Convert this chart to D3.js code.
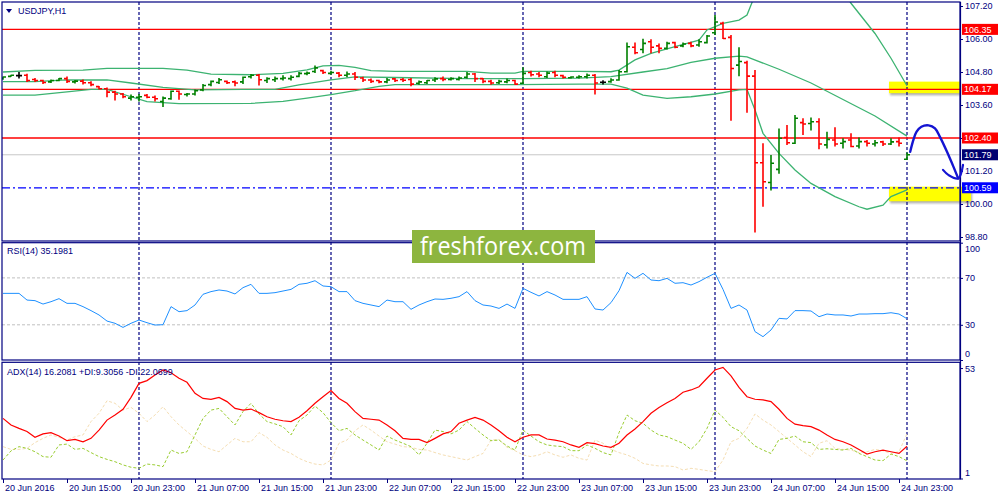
<!DOCTYPE html>
<html>
<head>
<meta charset="utf-8">
<script src="https://cdn.jsdelivr.net/npm/d3@7"></script>
<style>
body{margin:0;background:#fff;}
text{font-family:"Liberation Sans",Arial,sans-serif;}
</style>
</head>
<body>
<script>
// USDJPY H1, bars from 20 Jun 07:00 to 24 Jun 23:00
var barOpen = [104.56,104.64,104.67,104.68,104.53,104.49,104.44,104.49,104.56,104.44,
  104.47,104.41,104.27,104.19,104.07,104.00,103.85,103.88,103.95,103.88,
  103.73,103.83,104.10,103.98,104.00,104.15,104.34,104.42,104.46,104.44,
  104.44,104.63,104.68,104.49,104.52,104.56,104.56,104.64,104.74,104.82,
  104.85,104.75,104.76,104.68,104.73,104.58,104.51,104.49,104.44,104.55,
  104.53,104.53,104.39,104.41,104.51,104.56,104.53,104.53,104.61,104.73,
  104.56,104.46,104.41,104.44,104.49,104.39,104.78,104.73,104.63,104.78,
  104.67,104.59,104.61,104.63,104.68,104.43,104.45,104.51,104.81,105.70,
  105.62,105.90,105.75,105.66,105.87,105.75,105.84,105.78,105.87,106.23,
  106.57,106.06,105.05,105.14,104.65,101.50,100.78,101.26,102.42,102.21,
  102.96,102.93,102.99,102.15,102.33,102.21,102.33,102.11,102.27,102.18,
  102.26,102.18,102.27,101.63];
var barHigh = [104.64,104.70,104.80,104.74,104.58,104.52,104.53,104.58,104.64,104.51,
  104.53,104.46,104.29,104.24,104.12,104.04,103.98,104.00,104.00,103.95,
  103.91,104.13,104.13,104.04,104.16,104.36,104.49,104.58,104.49,104.49,
  104.64,104.73,104.73,104.61,104.64,104.68,104.68,104.80,104.82,105.04,
  104.88,104.85,104.80,104.82,104.80,104.63,104.56,104.52,104.58,104.58,
  104.58,104.58,104.49,104.51,104.61,104.64,104.61,104.64,104.80,104.76,
  104.58,104.52,104.52,104.56,104.52,104.97,104.85,104.80,104.82,104.85,
  104.70,104.65,104.68,104.75,104.73,104.50,104.57,104.87,105.87,105.87,
  106.01,105.99,105.84,105.90,105.90,105.87,105.90,105.99,106.15,106.87,
  106.63,106.15,105.70,105.21,104.87,102.21,101.78,102.75,102.87,103.24,
  103.12,103.15,103.12,102.63,102.79,102.39,102.57,102.42,102.33,102.33,
  102.30,102.39,102.42,101.87];
var barLow = [104.52,104.63,104.56,104.44,104.44,104.36,104.40,104.46,104.40,104.38,
  104.35,104.28,104.16,103.88,103.76,103.85,103.76,103.73,103.85,103.73,
  103.53,103.79,103.79,103.91,103.95,104.10,104.28,104.36,104.36,104.28,
  104.36,104.56,104.31,104.40,104.44,104.49,104.49,104.61,104.68,104.76,
  104.73,104.70,104.61,104.61,104.51,104.44,104.40,104.39,104.39,104.44,
  104.44,104.28,104.34,104.36,104.44,104.46,104.49,104.49,104.56,104.44,
  104.39,104.34,104.36,104.39,104.34,104.36,104.64,104.61,104.58,104.61,
  104.56,104.56,104.56,104.56,103.98,104.35,104.41,104.48,104.78,105.45,
  105.48,105.48,105.48,105.62,105.66,105.70,105.70,105.72,105.84,106.15,
  106.00,103.03,104.65,103.32,98.96,99.90,100.49,101.10,102.15,102.18,
  102.51,102.67,101.99,102.02,102.09,102.02,102.06,102.02,102.09,102.09,
  102.11,102.15,102.09,101.60];
var barClose = [104.62,104.68,104.67,104.49,104.49,104.42,104.49,104.56,104.46,104.47,
  104.41,104.34,104.19,104.07,104.00,103.90,103.90,103.90,103.88,103.83,
  103.85,104.10,104.00,104.00,104.12,104.31,104.46,104.52,104.41,104.40,
  104.61,104.68,104.52,104.56,104.56,104.58,104.61,104.75,104.76,104.95,
  104.78,104.78,104.68,104.73,104.61,104.51,104.46,104.44,104.51,104.49,
  104.50,104.36,104.44,104.49,104.55,104.53,104.56,104.58,104.73,104.56,
  104.46,104.40,104.46,104.49,104.36,104.75,104.70,104.68,104.76,104.68,
  104.61,104.62,104.63,104.68,104.40,104.43,104.51,104.81,105.72,105.50,
  105.84,105.70,105.66,105.84,105.70,105.82,105.75,105.90,106.11,106.62,
  106.02,104.93,105.18,104.65,101.50,100.81,101.48,102.39,102.23,103.12,
  102.91,102.99,102.18,102.35,102.18,102.27,102.09,102.27,102.21,102.23,
  102.18,102.26,102.21,101.79];

// Bollinger bands, vertices [bar, price]
var bbUpper = [[0,104.80],[4,104.86],[10,104.87],[13,104.93],[20,104.93],[23,104.87],[26,104.72],
  [31,104.70],[35,104.75],[38,104.88],[40,105.02],[42,105.04],[44,104.97],[46,104.85],[49,104.82],
  [58,104.82],[61,104.76],[64,104.76],[65,104.82],[72,104.82],[76,104.81],[77,104.87],[79,105.24],
  [81,105.48],[84,105.72],[87,105.96],[88,106.33],[90,106.57],[92,106.69],[93,106.87],[94,107.6],
  [96,108.4],[100,108.9],[104,108.2],[106,107.3],[109,106.2],[111,105.3],[112,104.8],[113,104.3]];
var bbMiddle = [[0,104.45],[4,104.45],[8,104.51],[13,104.51],[16,104.40],[20,104.24],[24,104.15],
  [30,104.17],[34,104.17],[37,104.33],[41,104.51],[44,104.62],[49,104.60],[58,104.56],[65,104.56],
  [72,104.58],[76,104.63],[80,104.80],[83,104.92],[86,105.15],[89,105.30],[92,105.38],[93,105.35],
  [97,104.90],[101,104.40],[105,103.80],[109,103.20],[113,102.47]];
var bbLower = [[0,103.96],[4,103.96],[8,104.08],[11,104.17],[13,104.17],[16,103.90],[18,103.72],
  [22,103.65],[31,103.66],[35,103.73],[38,103.85],[41,103.98],[44,104.12],[47,104.28],[49,104.34],
  [64,104.34],[72,104.36],[76,104.36],[78,104.21],[80,103.96],[83,103.84],[86,103.90],[89,104.00],
  [92,104.15],[93,104.17],[94,103.42],[95,102.57],[97,101.84],[99,101.24],[101,100.75],[104,100.27],
  [107,99.90],[108,99.81],[110,99.96],[111,100.27],[113,100.51]];

var rsiValues = [56.8,56.8,56.8,51.1,50.6,47.7,49.7,52.3,48.3,48.3,
  45.5,42.1,38.4,33.2,31.3,27.8,31.3,34.1,31.8,29.8,
  30.1,45.5,41.2,42.1,46.9,56.0,58.3,59.7,58.8,56.3,
  61.7,64.5,56.8,56.8,57.4,58.8,60.2,64.5,65.4,67.6,
  63.1,62.5,58.3,58.3,50.6,48.3,46.9,45.5,51.1,49.7,
  49.7,43.2,46.9,49.7,52.0,51.7,52.6,54.0,58.3,50.6,
  46.9,46.0,44.0,47.7,44.0,61.1,57.7,54.6,58.3,55.4,
  51.7,51.7,51.7,54.0,43.5,42.6,48.9,59.1,74.7,69.6,
  73.9,68.2,67.6,69.6,65.4,65.9,63.9,66.8,70.5,73.9,
  60.2,44.0,46.9,42.6,24.2,19.9,25.6,35.5,35.0,42.1,
  42.1,41.8,36.9,39.2,38.4,38.4,37.5,39.2,39.2,39.5,
  39.5,40.3,39.2,35.2];

var adxMain = [29.3,26.2,24.6,23.1,20.4,22.0,22.6,21.0,18.8,19.4,
  18.3,19.9,23.8,28.5,30.9,33.6,39.2,45.8,47.1,49.7,
  52.1,50.8,48.2,46.3,41.1,38.7,38.3,39.2,37.2,34.0,
  33.2,33.7,32.0,30.1,28.9,28.2,27.8,29.8,32.9,36.4,
  39.5,42.4,38.7,36.4,32.5,29.3,28.9,28.5,26.2,23.5,
  19.9,19.4,19.4,17.9,19.9,22.0,23.1,27.0,28.5,29.8,
  28.5,26.2,23.5,20.4,18.3,20.4,21.5,21.5,19.6,19.1,
  18.3,16.8,15.7,17.9,17.4,16.3,15.7,17.6,21.5,24.3,
  27.8,31.7,34.4,36.7,38.7,41.6,42.7,44.2,48.2,52.1,
  53.3,49.3,43.9,39.5,38.3,38.0,37.2,33.6,29.3,26.6,
  25.9,25.4,23.8,21.5,19.4,18.3,16.8,14.7,12.5,13.6,
  14.4,13.6,12.8,16.2];
var adxPlusDI = [9.7,14.0,16.0,15.2,13.6,11.3,11.0,16.8,17.2,14.7,
  15.2,13.2,11.3,10.0,8.9,7.4,6.3,5.8,7.8,7.4,
  6.6,14.4,12.8,13.6,21.5,29.3,33.2,34.0,30.1,26.2,
  32.5,36.4,31.4,27.8,26.7,25.4,21.5,28.2,30.9,35.1,
  32.0,27.3,23.5,24.6,21.5,19.1,16.8,14.4,21.0,19.1,
  17.6,16.0,12.1,17.6,23.8,23.1,22.0,23.8,27.8,24.6,
  21.5,18.8,19.1,16.3,14.4,23.8,21.0,18.3,16.8,16.3,
  16.0,14.1,14.1,16.8,15.2,13.2,12.1,22.6,30.9,28.2,
  27.0,23.8,21.5,20.7,19.1,17.6,14.7,18.3,24.6,33.2,
  29.8,25.4,23.5,19.9,16.3,14.4,12.8,19.4,19.9,21.0,
  18.3,17.9,14.7,15.0,14.7,14.4,15.2,12.8,11.3,9.7,
  9.4,12.5,11.3,9.3];
var adxMinusDI = [16.0,14.7,14.7,15.2,17.9,19.9,21.5,20.4,19.1,20.7,
  21.5,27.8,31.7,37.6,36.4,33.2,34.5,31.7,27.8,30.9,
  34.8,30.1,26.2,23.1,19.9,16.3,14.7,13.6,16.8,19.9,
  18.3,18.3,22.6,20.4,16.8,14.4,12.8,10.5,8.9,7.8,
  7.4,9.7,17.6,19.1,23.5,26.2,23.8,21.0,18.3,17.2,
  16.0,15.7,14.7,14.4,13.2,12.1,11.3,10.5,9.7,11.3,
  12.8,19.1,19.4,15.7,14.1,12.1,11.3,12.1,13.6,12.1,
  11.0,12.1,10.5,9.7,19.1,17.6,14.7,13.2,12.1,10.5,
  8.1,7.4,6.9,6.9,6.6,5.0,5.8,5.3,4.7,4.2,
  9.7,18.3,19.9,24.6,31.4,28.5,26.2,23.1,19.9,16.8,
  13.6,11.3,17.6,18.8,15.2,14.7,14.4,13.2,13.6,14.7,
  14.1,12.8,13.6,22.1];

var timeLabels = ["20 Jun 2016","20 Jun 15:00","20 Jun 23:00","21 Jun 07:00","21 Jun 15:00",
  "21 Jun 23:00","22 Jun 07:00","22 Jun 15:00","22 Jun 23:00","23 Jun 07:00","23 Jun 15:00",
  "23 Jun 23:00","24 Jun 07:00","24 Jun 15:00","24 Jun 23:00"];
var timeBars = [0,8,16,24,32,40,48,56,64,72,80,88,96,104,112];
var daySeparators = [17,41,65,89,113];
var priceTicks = [107.20,106.00,104.80,103.60,102.40,101.20,100.00,98.80];
var rsiTicks = [100,70,30,0];
var rsiLevels = [70,30];
var adxTicks = [53,1];

var redLevels = [106.35,104.17,102.40];
var bidPrice = 101.79;
var targetPrice = 100.59;
// highlighted zones: from bar, top price, bottom price
var zoneFrom = [110.75,110.75];
var zoneTop = [104.45,100.63];
var zoneBottom = [104.03,100.10];
// hand drawn arrow, [bar, price]
var arrowPath = [[113.4,101.90],[113.8,102.33],[114.2,102.63],[114.8,102.81],[115.7,102.86],
  [116.5,102.75],[117.1,102.45],[118.0,101.90],[118.8,101.36],[119.4,100.93]];
var arrowHead = [[117.5,101.24],[118.2,101.05],[119.4,100.93],[120.0,101.42]];

var navy = '#000080';
var svg = d3.select('body').append('svg').attr('width',1000).attr('height',500);

var x = d3.scaleLinear().domain([0,113]).range([3,907]);
var yPrice = d3.scaleLinear().domain([98.8,107.2]).range([237,6]);
var yRsi = d3.scaleLinear().domain([0,100]).range([360,242.7]);
var yAdx = d3.scaleLinear().domain([1,53.5]).range([478.5,367]);
var panels = [[2,241],[242.7,360],[362.3,479]];

var defs = svg.append('defs');
defs.append('clipPath').attr('id','clipMain').append('rect')
  .attr('x',2).attr('y',2).attr('width',958).attr('height',239);
defs.append('filter').attr('id','blur').append('feGaussianBlur').attr('stdDeviation',1.3);

// yellow zones (background)
zoneFrom.forEach(function(f,i){
  var zx = x(f), zy = yPrice(zoneTop[i]), zh = yPrice(zoneBottom[i]) - zy;
  var zw = (i==0 ? 960 : 971) - zx;
  svg.append('rect').attr('x',zx+1).attr('y',zy+2).attr('width',zw).attr('height',zh)
    .attr('fill','#777').attr('opacity',0.6).attr('filter','url(#blur)');
  svg.append('rect').attr('x',zx).attr('y',zy).attr('width',zw).attr('height',zh).attr('fill','#ffff00');
});

// rsi levels
svg.selectAll('line.rsilvl').data(rsiLevels).enter().append('line')
  .attr('class','rsilvl')
  .attr('x1',2).attr('x2',960)
  .attr('y1',function(d){return yRsi(d);}).attr('y2',function(d){return yRsi(d);})
  .attr('stroke','#c0c0c0').attr('stroke-dasharray','3,2');

// day separators
svg.selectAll('line.sep').data(daySeparators).enter().append('line')
  .attr('class','sep')
  .attr('x1',function(d){return x(d);}).attr('x2',function(d){return x(d);})
  .attr('y1',2).attr('y2',479)
  .attr('stroke',navy).attr('stroke-width',1.2).attr('stroke-dasharray','3,2');

var main = svg.append('g').attr('clip-path','url(#clipMain)');

main.selectAll('line.lvl').data(redLevels).enter().append('line')
  .attr('class','lvl')
  .attr('x1',2).attr('x2',960)
  .attr('y1',function(d){return yPrice(d);}).attr('y2',function(d){return yPrice(d);})
  .attr('stroke','#ff0000').attr('stroke-width',1.3);
main.append('line').attr('x1',2).attr('x2',960)
  .attr('y1',yPrice(bidPrice)).attr('y2',yPrice(bidPrice))
  .attr('stroke','#c8c8c8').attr('stroke-width',1);
main.append('line').attr('x1',2).attr('x2',960)
  .attr('y1',yPrice(targetPrice)).attr('y2',yPrice(targetPrice))
  .attr('stroke','#0000ff').attr('stroke-width',1.2).attr('stroke-dasharray','8,3,2,3');

var bbLine = d3.line().x(function(d){return x(d[0]);}).y(function(d){return yPrice(d[1]);});
[bbUpper,bbMiddle,bbLower].forEach(function(s){
  main.append('path').attr('d',bbLine(s)).attr('fill','none')
    .attr('stroke','#3cb371').attr('stroke-width',1.3);
});

// OHLC bars
main.selectAll('path.bar').data(barClose).enter().append('path')
  .attr('class','bar')
  .attr('d',function(c,i){
    var bx = x(i);
    return 'M'+bx+','+yPrice(barHigh[i])+'V'+yPrice(barLow[i])
      +'M'+(bx-3)+','+yPrice(barOpen[i])+'H'+bx
      +'M'+bx+','+yPrice(c)+'H'+(bx+3);
  })
  .attr('fill','none').attr('stroke-width',1.6)
  .attr('stroke',function(c,i){return c>barOpen[i]?'#008000':(c<barOpen[i]?'#ff0000':'#000000');});

// RSI
var rsiLine = d3.line().x(function(d,i){return x(i);}).y(function(d){return yRsi(d);});
svg.append('path').attr('d',rsiLine(rsiValues)).attr('fill','none')
  .attr('stroke','#1e90ff').attr('stroke-width',1);

// ADX
var adxLine = d3.line().x(function(d,i){return x(i);}).y(function(d){return yAdx(d);});
svg.append('path').attr('d',adxLine(adxMinusDI)).attr('fill','none')
  .attr('stroke','#f5deb3').attr('stroke-width',1).attr('stroke-dasharray','3,2');
svg.append('path').attr('d',adxLine(adxPlusDI)).attr('fill','none')
  .attr('stroke','#9acd32').attr('stroke-width',1).attr('stroke-dasharray','3,2');
svg.append('path').attr('d',adxLine(adxMain)).attr('fill','none')
  .attr('stroke','#ff0000').attr('stroke-width',1.2);

// panel frames
panels.forEach(function(p){
  svg.append('rect').attr('x',2).attr('y',p[0]).attr('width',958).attr('height',p[1]-p[0])
    .attr('fill','none').attr('stroke',navy).attr('stroke-width',1.2);
});

// axes
function styleAxis(g){
  g.select('.domain').remove();
  g.selectAll('line').attr('stroke',navy);
  g.selectAll('text').attr('fill',navy).style('font-family','"Liberation Sans",Arial,sans-serif').style('font-size','9px');
}
svg.append('g').attr('transform','translate(960,0)')
  .call(d3.axisRight(yPrice).tickValues(priceTicks).tickSize(3).tickPadding(2).tickFormat(d3.format('.2f')))
  .call(styleAxis);
svg.append('g').attr('transform','translate(960,0)')
  .call(d3.axisRight(yRsi).tickValues(rsiTicks).tickSize(3).tickPadding(2))
  .call(styleAxis)
  .selectAll('text').attr('y',function(d){return d==100?6:(d==0?-6:0);});
svg.append('g').attr('transform','translate(960,0)')
  .call(d3.axisRight(yAdx).tickValues(adxTicks).tickSize(3).tickPadding(2))
  .call(styleAxis)
  .selectAll('text').attr('y',function(d){return d==1?-6:1;});
var xAxis = svg.append('g').attr('transform','translate(0,479)')
  .call(d3.axisBottom(x).tickValues(timeBars).tickSize(4).tickPadding(2)
    .tickFormat(function(d,i){return timeLabels[i];}))
  .call(styleAxis);
xAxis.selectAll('text').attr('text-anchor','start').attr('dx',1.5);
svg.append('line').attr('x1',960.5).attr('x2',960.5).attr('y1',2).attr('y2',479)
  .attr('stroke',navy).attr('stroke-width',1.2);

// price labels on the right
var priceBoxes = [[106.35,'#ff0000'],[104.17,'#ff0000'],[102.40,'#ff0000'],[bidPrice,'#000070'],[targetPrice,'#0000ff']];
priceBoxes.forEach(function(b){
  var by = yPrice(b[0]);
  svg.append('rect').attr('x',962).attr('y',by-5.5).attr('width',36).attr('height',11).attr('fill',b[1]);
  svg.append('text').attr('x',964).attr('y',by).attr('dy','0.35em')
    .attr('fill','#ffffff').style('font-size','9px').text(d3.format('.2f')(b[0]));
});

// watermark
svg.append('rect').attr('x',412).attr('y',230).attr('width',183).attr('height',33).attr('fill','#8db53f');
svg.append('text').attr('x',420).attr('y',255).attr('fill','#ffffff')
  .attr('textLength',166).attr('lengthAdjust','spacingAndGlyphs')
  .style('font-family','"Open Sans",sans-serif').style('font-size','26px').text('freshforex.com');

// arrow
var arrowLine = d3.line().curve(d3.curveCatmullRom)
  .x(function(d){return x(d[0]);}).y(function(d){return yPrice(d[1]);});
svg.append('path').attr('d',arrowLine(arrowPath)).attr('fill','none')
  .attr('stroke','#1414d2').attr('stroke-width',2.4).attr('stroke-linecap','round');
svg.append('path').attr('d',arrowLine(arrowHead)).attr('fill','none')
  .attr('stroke','#1414d2').attr('stroke-width',2.2).attr('stroke-linecap','round').attr('stroke-linejoin','round');

// panel titles
svg.append('path').attr('d','M6,9H12L9,13Z').attr('fill',navy);
svg.append('text').attr('x',18).attr('y',14).attr('fill',navy).style('font-size','9px').text('USDJPY,H1');
svg.append('text').attr('x',7).attr('y',254).attr('fill',navy).style('font-size','9px').text('RSI(14) 35.1981');
svg.append('text').attr('x',7).attr('y',375).attr('fill',navy).style('font-size','9px')
  .text('ADX(14) 16.2081 +DI:9.3056 -DI:22.0699');
</script>
</body>
</html>
